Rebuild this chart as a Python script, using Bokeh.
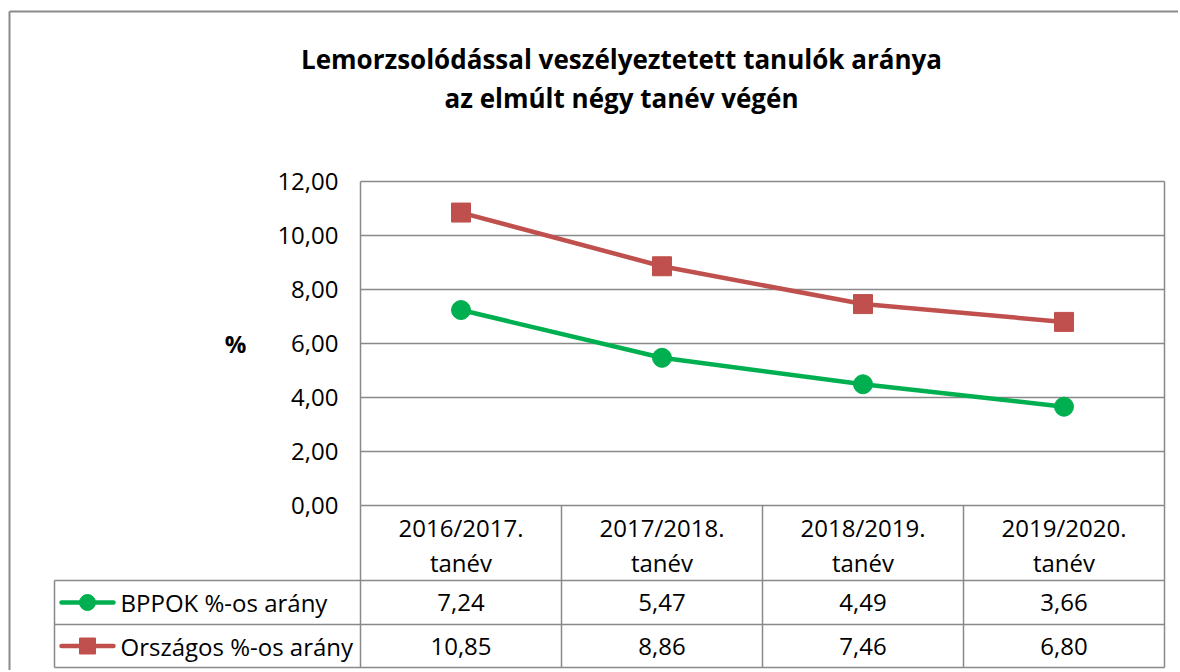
from bokeh.plotting import figure
from bokeh.models import Range1d, FixedTicker, ColumnDataSource, Grid, LinearAxis
from bokeh.core.properties import value
from bokeh.embed import file_html
from bokeh.resources import INLINE

# ---------------- data ----------------
title_lines = ["Lemorzsolódással veszélyeztetett tanulók aránya",
               "az elmúlt négy tanév végén"]
categories = ["2016/2017.\ntanév", "2017/2018.\ntanév",
              "2018/2019.\ntanév", "2019/2020.\ntanév"]
series_names = ["BPPOK %-os arány", "Országos %-os arány"]
bppok = [7.24, 5.47, 4.49, 3.66]
orszagos = [10.85, 8.86, 7.46, 6.80]
y_ticks = [0, 2, 4, 6, 8, 10, 12]
y_label = "%"

# ---------------- style / layout ----------------
FONT = "Open Sans"
GRID = "#898989"
FRAME = "#8a8a8a"
GREEN = "#00B050"
RED = "#C0504D"
LW = 1.5
W, H = 1178, 670

# layout helpers: one category = 201 px, one y unit = 27 px
CAT_PX = 201.0
PX_Y = 27.0
X_LEFT_PX = 360.0   # left edge of first category column
Y_ZERO_PX = 505.0   # pixel row of value 0


def px2x(px):
    return -0.5 + (px - X_LEFT_PX) / CAT_PX


def px2y(py):
    return (Y_ZERO_PX - py) / PX_Y


def hu(v):
    return f"{v:.2f}".replace(".", ",")


n = len(categories)
xs = list(range(n))
bounds = [i + 0.5 for i in range(n)]
y_top = max(y_ticks)

# table rows (pixel rows of the horizontal rules)
HDR_BOTTOM = px2y(580)
ROW_MID = px2y(624)
TBL_BOTTOM = px2y(667)
LEG = px2x(54)

p = figure(width=W, height=H, x_range=Range1d(px2x(0), px2x(W)),
           y_range=Range1d(px2y(H), px2y(0)), x_axis_location=None,
           y_axis_location=None, min_border=0, output_backend="svg",
           toolbar_location=None, title=None)
p.outline_line_color = None
p.grid.visible = False

# outer chart-area border (left and top)
p.segment(x0=[px2x(9), px2x(9)], y0=[px2y(11), px2y(11)],
          x1=[px2x(9), px2x(W + 5)], y1=[px2y(H + 5), px2y(11)],
          line_color=FRAME, line_width=2)

# title
p.text(x=[px2x(621)] * 2, y=[px2y(58), px2y(97)], text=title_lines,
       text_font=value(FONT), text_font_style="bold", text_font_size="26px",
       text_align="center", text_baseline="alphabetic", text_color="black")

# grid + y axis
grid = Grid(dimension=1, ticker=FixedTicker(ticks=y_ticks),
            cross_bounds=(-0.5, n - 0.5), grid_line_color=GRID, grid_line_width=LW)
p.add_layout(grid)

ax = LinearAxis(fixed_location=-0.5, bounds=(0, y_top),
                ticker=FixedTicker(ticks=y_ticks))
ax.major_label_overrides = {t: hu(t) for t in y_ticks}
ax.major_tick_out = 0
ax.major_tick_in = 0
ax.minor_tick_out = 0
ax.minor_tick_in = 0
ax.axis_line_color = GRID
ax.axis_line_width = LW
ax.major_label_text_font = FONT
ax.major_label_text_font_size = "24px"
ax.major_label_text_color = "black"
ax.major_label_standoff = 22
ax.axis_label = y_label
ax.axis_label_text_font = FONT
ax.axis_label_text_font_style = "bold"
ax.axis_label_text_font_size = "24px"
ax.axis_label_text_color = "black"
ax.axis_label_standoff = 28
ax.axis_label_orientation = "horizontal"
p.add_layout(ax, "left")

# table / frame rules
vlines = [-0.5] + bounds
p.segment(x0=vlines, y0=[0] * len(vlines), x1=vlines, y1=[TBL_BOTTOM] * len(vlines),
          line_color=GRID, line_width=LW)
p.segment(x0=[bounds[-1]], y0=[0], x1=[bounds[-1]], y1=[y_top],
          line_color=GRID, line_width=LW)
p.segment(x0=[LEG], y0=[HDR_BOTTOM], x1=[LEG], y1=[TBL_BOTTOM],
          line_color=GRID, line_width=LW)
p.segment(x0=[LEG] * 3, y0=[HDR_BOTTOM, ROW_MID, TBL_BOTTOM],
          x1=[bounds[-1]] * 3, y1=[HDR_BOTTOM, ROW_MID, TBL_BOTTOM],
          line_color=GRID, line_width=LW)

# series
src = ColumnDataSource(dict(x=xs, bppok=bppok, orszagos=orszagos))
p.line("x", "bppok", source=src, line_color=GREEN, line_width=4.5)
p.scatter("x", "bppok", source=src, marker="circle", size=19,
          fill_color=GREEN, line_color=GREEN)
p.line("x", "orszagos", source=src, line_color=RED, line_width=4.5)
p.scatter("x", "orszagos", source=src, marker="square", size=19,
          fill_color=RED, line_color=RED)

# table texts
txt = dict(text_font=value(FONT), text_font_size="24px", text_color="black",
           text_baseline="middle")
cat_l1 = [c.split("\n")[0] for c in categories]
cat_l2 = [c.split("\n")[1] for c in categories]
p.text(x=xs, y=[px2y(527)] * n, text=cat_l1, text_align="center", **txt)
p.text(x=xs, y=[px2y(562)] * n, text=cat_l2, text_align="center", **txt)

rows_y = [(HDR_BOTTOM + ROW_MID) / 2, (ROW_MID + TBL_BOTTOM) / 2]
for vals, yy in zip([bppok, orszagos], rows_y):
    p.text(x=xs, y=[yy] * n, text=[hu(v) for v in vals], text_align="center", **txt)

colors = [GREEN, RED]
markers = ["circle", "square"]
for name, c, m, yy in zip(series_names, colors, markers, rows_y):
    p.segment(x0=[px2x(61)], y0=[yy], x1=[px2x(113)], y1=[yy], line_color=c,
              line_width=4.5, line_cap="round")
    p.scatter(x=[px2x(87)], y=[yy], marker=m, size=16, fill_color=c, line_color=c)
    p.text(x=[px2x(120)], y=[yy], text=[name], text_align="left", **txt)

open("out.html", "w").write(file_html(p, INLINE))
